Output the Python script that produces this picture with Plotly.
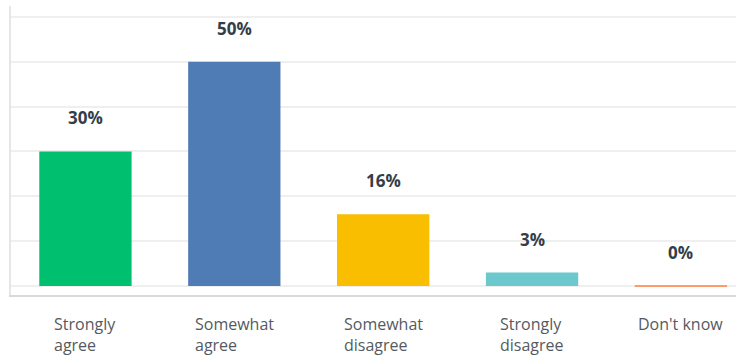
import plotly.graph_objects as go

categories = ["Strongly agree", "Somewhat agree", "Somewhat disagree", "Strongly disagree", "Don't know"]
label_lines = ["Strongly<br>agree", "Somewhat<br>agree", "Somewhat<br>disagree", "Strongly<br>disagree", "Don't know"]
values = [30, 50, 16, 3, 0]
value_labels = ["30%", "50%", "16%", "3%", "0%"]
colors = ["#00bf6f", "#507cb6", "#f9be00", "#6bc8cd", "#ff9b6b"]

fig = go.Figure()
fig.add_trace(go.Bar(
    x=categories,
    y=values,
    width=0.62,
    marker=dict(
        color=colors,
        line=dict(color=colors, width=[0 if v else 2 for v in values]),
    ),
    hoverinfo="skip",
))

annotations = []
for c, v, t in zip(categories, values, value_labels):
    annotations.append(dict(
        x=c, y=v, xref="x", yref="y", text="<b>" + t + "</b>",
        showarrow=False, xanchor="center", yanchor="bottom", yshift=20,
        font=dict(family="Open Sans, Lato, sans-serif", size=17, color="#333e48"),
    ))
for c, t in zip(categories, label_lines):
    annotations.append(dict(
        x=c, y=-0.055, xref="x", yref="paper", text=t, align="left",
        showarrow=False, xanchor="center", yanchor="top",
        font=dict(family="Open Sans, Lato, sans-serif", size=16, color="#555a60"),
    ))

fig.update_layout(
    width=736, height=359,
    margin=dict(l=11, r=0, t=6, b=64),
    paper_bgcolor="white", plot_bgcolor="white",
    showlegend=False,
    bargap=0.38,
    annotations=annotations,
    xaxis=dict(
        range=[-0.5, 4.37],
        showticklabels=False, ticks="",
        showgrid=False, zeroline=False,
        showline=True, linecolor="#d9d9d9", linewidth=2,
        fixedrange=True,
    ),
    yaxis=dict(
        range=[-2, 62.4],
        dtick=10, tick0=0,
        showticklabels=False, ticks="",
        showgrid=True, gridcolor="#efefef", gridwidth=2,
        zeroline=False,
        showline=True, linecolor="#e6e6e6", linewidth=2,
        fixedrange=True,
    ),
)

fig.write_html(
    "out.html",
    config={"displayModeBar": False},
    post_script="document.body.style.margin='0';document.body.style.padding='0';",
)
